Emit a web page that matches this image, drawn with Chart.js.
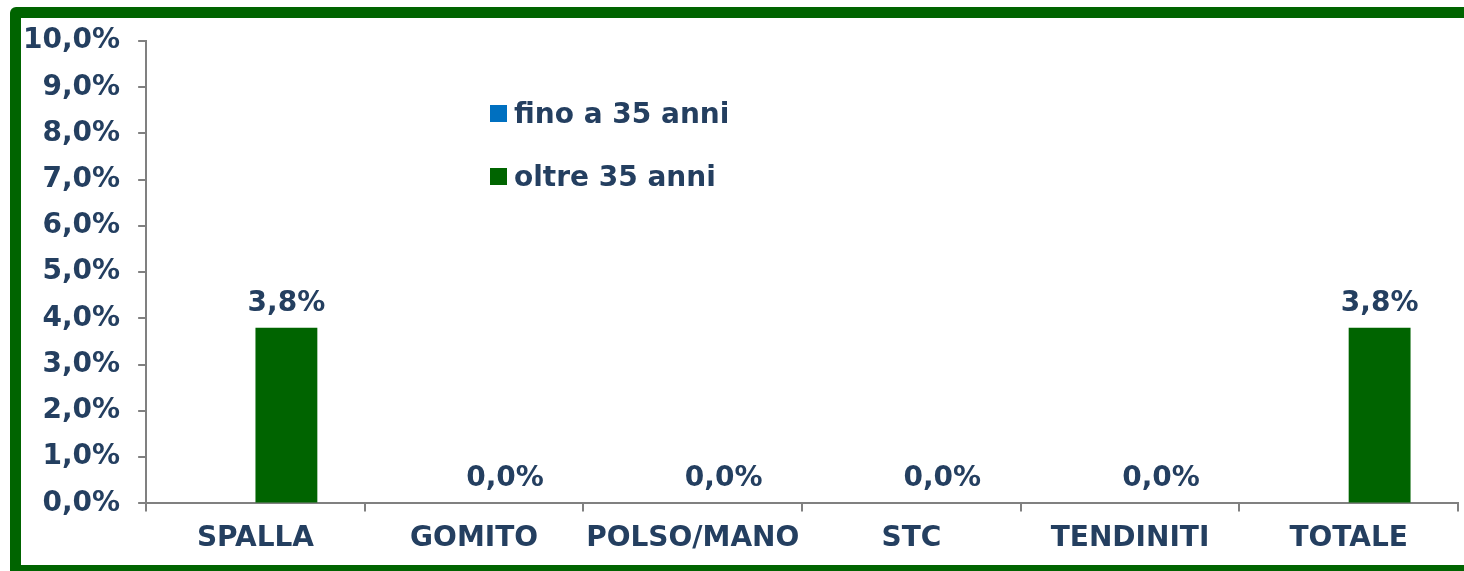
<!DOCTYPE html>
<html>
<head>
<meta charset="utf-8">
<script src="https://cdn.jsdelivr.net/npm/chart.js@4/dist/chart.umd.min.js"></script>
<style>
  html, body { margin: 0; padding: 0; background: #fff; }
  body { width: 1464px; height: 571px; position: relative; overflow: hidden; }
  #frame {
    position: absolute; left: 10px; top: 7px; width: 1480px; height: 547px;
    border: 11px solid #006400; border-radius: 6px; box-sizing: content-box;
  }
  #wrap { position: absolute; left: 0; top: 0; width: 1464px; height: 571px; }
  #legend {
    position: absolute; left: 490px; top: 96px;
    font: bold 28px "DejaVu Sans", Verdana, sans-serif; color: #243F60;
  }
  .item { display: flex; align-items: center; height: 34px; margin-bottom: 29px; }
  .box { width: 17px; height: 17px; margin-right: 7px; }
</style>
</head>
<body>
<div id="frame"></div>
<div id="wrap"><canvas id="chart" width="1464" height="571"></canvas></div>
<div id="legend"></div>
<script>
const categories = ['SPALLA', 'GOMITO', 'POLSO/MANO', 'STC', 'TENDINITI', 'TOTALE'];
const seriesNames = ['fino a 35 anni', 'oltre 35 anni'];
const finoA35 = [0, 0, 0, 0, 0, 0];
const oltre35 = [3.8, 0, 0, 0, 0, 3.8];
const colors = ['#0070C0', '#006400'];
const yTicks = [0, 1, 2, 3, 4, 5, 6, 7, 8, 9, 10];

const textColor = '#243F60';
const font = { family: '"DejaVu Sans", Verdana, sans-serif', size: 28, weight: 'bold' };

function fmt(v) {
  return v.toFixed(1).replace('.', ',') + '%';
}

// legend as plain html
const legend = document.getElementById('legend');
seriesNames.forEach((name, i) => {
  const item = document.createElement('div');
  item.className = 'item';
  item.innerHTML = `<span class="box" style="background:${colors[i]}"></span><span>${name}</span>`;
  legend.appendChild(item);
});

// value labels above the green bars
const valueLabels = {
  id: 'valueLabels',
  afterDatasetsDraw(chart) {
    const ctx = chart.ctx;
    const meta = chart.getDatasetMeta(1);
    ctx.save();
    ctx.font = `${font.weight} ${font.size}px ${font.family}`;
    ctx.fillStyle = textColor;
    ctx.textAlign = 'center';
    ctx.textBaseline = 'alphabetic';
    meta.data.forEach((bar, i) => {
      ctx.fillText(fmt(oltre35[i]), bar.x, bar.y - 17);
    });
    ctx.restore();
  }
};

new Chart(document.getElementById('chart').getContext('2d'), {
  type: 'bar',
  data: {
    labels: categories,
    datasets: [
      { label: seriesNames[0], data: finoA35, backgroundColor: colors[0] },
      { label: seriesNames[1], data: oltre35, backgroundColor: colors[1] }
    ]
  },
  options: {
    responsive: false,
    animation: false,
    categoryPercentage: 0.566,
    barPercentage: 1,
    layout: { padding: { left: 5, top: 41, right: 6, bottom: 4 } },
    plugins: {
      legend: { display: false },
      tooltip: { enabled: false }
    },
    scales: {
      x: {
        grid: { drawOnChartArea: false, color: '#808080', tickLength: 8, lineWidth: 2 },
        border: { color: '#808080', width: 2 },
        ticks: { color: textColor, font: font, padding: 11, maxRotation: 0, autoSkip: false }
      },
      y: {
        min: 0,
        max: 10,
        afterBuildTicks: axis => { axis.ticks = yTicks.map(v => ({ value: v })); },
        grid: { drawOnChartArea: false, color: '#808080', tickLength: 8, lineWidth: 2 },
        border: { color: '#808080', width: 2 },
        ticks: { color: textColor, font: font, padding: 18, callback: v => fmt(v) }
      }
    }
  },
  plugins: [valueLabels]
});
</script>
</body>
</html>
